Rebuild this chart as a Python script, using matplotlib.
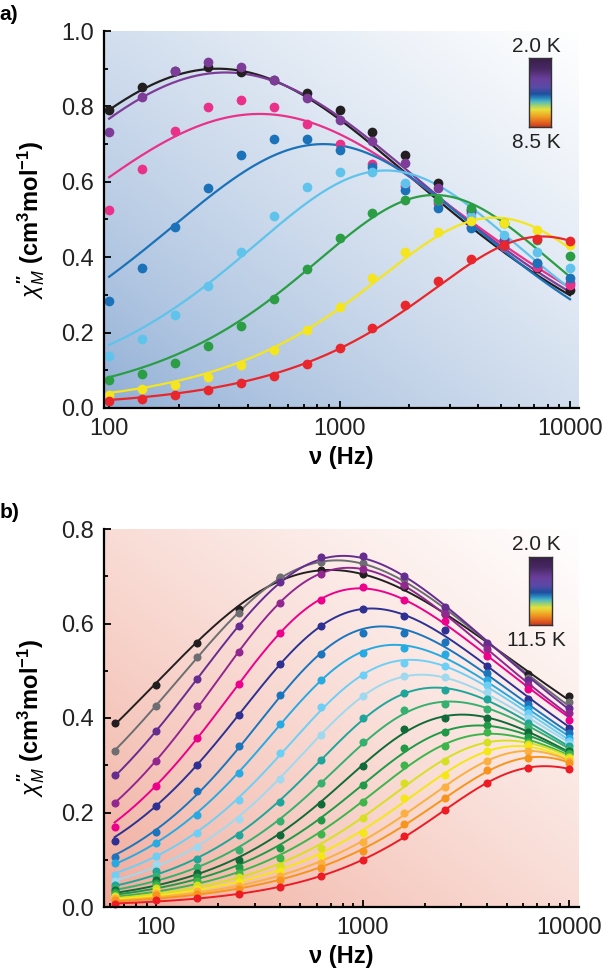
import numpy as np
import matplotlib
matplotlib.use("Agg")
import matplotlib.pyplot as plt
from matplotlib.colors import LinearSegmentedColormap, to_rgb
from matplotlib.ticker import MultipleLocator, LogLocator, NullFormatter, FixedFormatter, FixedLocator

# ---- panel a: 2.0 K ... 8.5 K ----
freq_a = [100, 139, 193, 268, 373, 518, 720, 1000, 1389, 1931, 2683, 3728, 5179, 7197, 10000]
colors_a = ['#231f20', '#7d3c98', '#e9318a', '#1b72b8', '#5fc3ec', '#2a9d45', '#f4e51f', '#e8262b']
chi_a = [
    [.791, .851, .894, .905, .892, .870, .835, .791, .733, .671, .596, .526, .446, .371, .314],
    [.733, .826, .894, .919, .905, .870, .822, .764, .707, .651, .583, .517, .446, .384, .331],
    [.524, .633, .735, .799, .817, .798, .754, .700, .647, .590, .543, .481, .428, .375, .327],
    [.283, .371, .481, .583, .671, .713, .713, .685, .640, .579, .530, .477, .430, .384, .345],
    [.139, .183, .247, .324, .415, .510, .586, .626, .625, .596, .552, .508, .459, .415, .371],
    [.075, .091, .119, .165, .218, .290, .368, .452, .517, .552, .552, .530, .490, .446, .404],
    [.035, .050, .062, .081, .115, .155, .208, .269, .345, .415, .468, .495, .492, .473, .433],
    [.018, .024, .035, .049, .066, .086, .117, .159, .212, .274, .336, .395, .433, .448, .442],
]
# generalized Debye fit lines: peak frequency, peak height, alpha
fit_peak_a = [296, 320, 450, 850, 1590, 2580, 4700, 7600]
fit_height_a = [.900, .890, .780, .700, .630, .565, .505, .455]
fit_alpha_a = [.40, .40, .40, .28, .20, .14, .12, .10]

# ---- panel b: 2.0 K ... 11.5 K ----
freq_b = [63, 100, 158, 251, 398, 631, 1000, 1585, 2512, 3981, 6310, 10000]
colors_b = ['#231f20', '#6d6e71', '#662d91', '#92278f', '#ec008c', '#2e3192', '#1c75bc',
            '#27aae1', '#6dcff6', '#9fd9ef', '#1fa59a', '#35b06e', '#106b38', '#219a48',
            '#3db54a', '#d7df23', '#f5e616', '#fbb040', '#f7941d', '#ed1c24']
chi_b = [
    [.389, .470, .558, .630, .696, .713, .705, .678, .620, .555, .494, .446],
    [.330, .425, .530, .622, .699, .731, .728, .695, .628, .555, .485, .433],
    [.280, .372, .482, .594, .687, .740, .743, .701, .635, .559, .481, .421],
    [.220, .308, .425, .539, .643, .705, .715, .682, .620, .545, .470, .410],
    [.170, .257, .358, .473, .580, .650, .678, .650, .606, .531, .462, .396],
    [.139, .213, .301, .407, .515, .594, .630, .615, .586, .510, .440, .379],
    [.106, .159, .245, .340, .449, .536, .580, .580, .560, .495, .430, .368],
    [.094, .135, .195, .284, .388, .480, .537, .548, .535, .480, .420, .358],
    [.067, .108, .157, .226, .326, .423, .492, .516, .510, .470, .410, .351],
    [.055, .090, .128, .186, .271, .365, .446, .488, .487, .455, .400, .346],
    [.046, .076, .102, .152, .222, .311, .399, .453, .460, .440, .390, .340],
    [.040, .066, .085, .121, .183, .263, .349, .416, .430, .420, .380, .335],
    [.036, .058, .073, .099, .152, .219, .299, .377, .400, .400, .370, .330],
    [.032, .051, .063, .085, .124, .185, .258, .337, .370, .385, .360, .326],
    [.028, .046, .055, .073, .104, .154, .222, .301, .340, .370, .350, .323],
    [.024, .040, .047, .063, .087, .125, .189, .263, .310, .350, .345, .318],
    [.021, .034, .039, .053, .076, .108, .157, .231, .280, .330, .340, .313],
    [.018, .029, .033, .045, .066, .094, .137, .199, .255, .310, .330, .308],
    [.014, .025, .028, .039, .058, .083, .118, .175, .230, .290, .315, .304],
    [.007, .014, .020, .028, .042, .065, .099, .151, .205, .263, .294, .292],
]
# Havriliak-Negami fit lines: log10(f0), a, b, delta
fit_lf0_b = [2.47, 2.54, 2.58, 2.59, 2.63, 2.71, 2.76, 2.82, 2.92, 2.96,
             3.05, 3.12, 3.18, 3.27, 3.35, 3.49, 3.67, 3.79, 3.85, 3.68]
fit_a_b = [.68, .74, .80, .86, .88, .88, .92, .92, .92, .94,
           .94, .94, .94, .92, .92, .90, .88, .88, .88, .96]
fit_b_b = [.525, .525, .500, .450, .425, .450, .425, .425, .450, .425,
           .450, .450, .450, .475, .500, .600, .825, .975, 1.000, .575]
fit_delta_b = [3.168, 2.953, 2.794, 2.614, 2.464, 2.236, 2.053, 1.918, 1.751, 1.654,
               1.512, 1.416, 1.326, 1.248, 1.158, 1.041, .893, .807, .768, .826]

bar_colors = ['#3a1f4c', '#472862', '#6a3f9c', '#5a4aa6', '#1f4f9e', '#2a86bf', '#4bb8c8',
              '#8fcf7e', '#e8e03a', '#f0a024', '#df5a20', '#c83a1e']
bar_pos = [0.0, 0.15, 0.3, 0.42, 0.52, 0.58, 0.63, 0.68, 0.75, 0.85, 0.95, 1.0]

W, H = 608, 977


def debye(f, fpk, h, alpha):
    y = (f / fpk) ** (1 - alpha)
    s = np.sin(alpha * np.pi / 2)
    return h * 2 * y * (1 + s) / (1 + 2 * y * s + y * y)


def hn(f, lf0, a, b, d):
    z = (1j * f / 10 ** lf0) ** a
    return -d * np.imag(1.0 / (1.0 + z) ** b)


def background(ax, dark):
    x = np.linspace(0, 1, 300)
    X, Y = np.meshgrid(x, x)
    t = ((X + Y) / 2) ** 0.7
    c0 = np.array(to_rgb(dark))
    img = c0[None, None, :] * (1 - t[..., None]) + t[..., None]
    ax.imshow(img, extent=[0, 1, 0, 1], transform=ax.transAxes, origin='lower',
              aspect='auto', zorder=0, interpolation='bilinear')


def style_axes(ax, ymax, xmin, xmax):
    ax.set_xscale('log')
    ax.set_xlim(xmin, xmax)
    ax.set_ylim(0, ymax)
    for s in ['top', 'right']:
        ax.spines[s].set_visible(False)
    for s in ['left', 'bottom']:
        ax.spines[s].set_linewidth(1.6)
        ax.spines[s].set_zorder(5)
    ax.yaxis.set_major_locator(MultipleLocator(0.2))
    ax.yaxis.set_minor_locator(MultipleLocator(0.1))
    ax.yaxis.set_major_formatter(plt.FuncFormatter(lambda v, p: f"{v:.1f}"))
    ax.xaxis.set_major_locator(FixedLocator([100, 1000, 10000]))
    ax.xaxis.set_major_formatter(FixedFormatter(['100', '1000', '10000']))
    ax.xaxis.set_minor_locator(LogLocator(base=10, subs=np.arange(2, 10), numticks=20))
    ax.xaxis.set_minor_formatter(NullFormatter())
    ax.tick_params(which='both', direction='in', width=1.3, labelsize=17,
                   labelcolor='#222222', pad=7)
    ax.tick_params(which='major', length=5)
    ax.tick_params(which='minor', length=3)
    ax.set_xlabel('ν (Hz)', fontsize=17, fontweight='bold')
    ax.set_ylabel(r"$\chi_M^{\prime\prime}$ (cm$^{\mathrm{3}}$mol$^{\mathrm{-1}}$)",
                  fontsize=17, fontweight='bold')
    ax.xaxis.set_label_coords(0.5, -0.1)
    ax.yaxis.set_label_coords(-0.12, 0.5)


def color_bar(fig, box, top_label, bottom_label, label_x):
    cmap = LinearSegmentedColormap.from_list('t', list(zip(bar_pos, bar_colors)))
    l, t, w, h = box
    cax = fig.add_axes([l / W, 1 - (t + h) / H, w / W, h / H])
    cax.imshow(np.linspace(0, 1, 200)[:, None], cmap=cmap, aspect='auto')
    cax.set_xticks([])
    cax.set_yticks([])
    for s in cax.spines.values():
        s.set_linewidth(1.0)
        s.set_color('#333333')
    fig.text(label_x / W, 1 - (t - 12) / H, top_label, ha='center', va='center',
             fontsize=15, color='#222222')
    fig.text(label_x / W, 1 - (t + h + 15) / H, bottom_label, ha='center', va='center',
             fontsize=15, color='#222222')


def main():
    plt.rcParams['font.family'] = ['Liberation Sans', 'DejaVu Sans']
    plt.rcParams['mathtext.fontset'] = 'custom'
    plt.rcParams['mathtext.rm'] = 'Liberation Sans:bold'
    plt.rcParams['mathtext.it'] = 'Liberation Sans:italic'
    plt.rcParams['mathtext.bf'] = 'Liberation Sans:bold'

    fig = plt.figure(figsize=(W / 100, H / 100), dpi=100)
    ax1 = fig.add_axes([104 / W, 1 - 408 / H, 475 / W, 377 / H])
    ax2 = fig.add_axes([104 / W, 1 - 907 / H, 475 / W, 378 / H])

    # panel a
    background(ax1, '#8aaad3')
    ff = np.logspace(2, 4, 300)
    for k in range(len(chi_a)):
        ax1.plot(ff, debye(ff, fit_peak_a[k], fit_height_a[k], fit_alpha_a[k]),
                 color=colors_a[k], lw=1.6, zorder=2)
    for k in range(len(chi_a)):
        ax1.plot(freq_a, chi_a[k], 'o', color=colors_a[k], ms=7, mew=0, zorder=3,
                 clip_on=False)
    style_axes(ax1, 1.0, 95, 10940)

    # panel b
    background(ax2, '#efa493')
    ff = np.logspace(np.log10(63), 4, 300)
    for k in range(len(chi_b)):
        ax2.plot(ff, hn(ff, fit_lf0_b[k], fit_a_b[k], fit_b_b[k], fit_delta_b[k]),
                 color=colors_b[k], lw=1.4, zorder=2)
    for k in range(len(chi_b)):
        ax2.plot(freq_b, chi_b[k], 'o', color=colors_b[k], ms=5.8, mew=0, zorder=3,
                 clip_on=False)
    style_axes(ax2, 0.8, 56, 11150)

    color_bar(fig, (529, 58, 22, 69), '2.0 K', '8.5 K', 536)
    color_bar(fig, (529, 557, 23, 68), '2.0 K', '11.5 K', 536)

    fig.text(9 / W, 1 - 14 / H, 'a)', fontsize=15, fontweight='bold', ha='center', va='center')
    fig.text(10 / W, 1 - 513 / H, 'b)', fontsize=15, fontweight='bold', ha='center', va='center')

    fig.savefig('out.png', dpi=100)


if __name__ == "__main__":
    main()
